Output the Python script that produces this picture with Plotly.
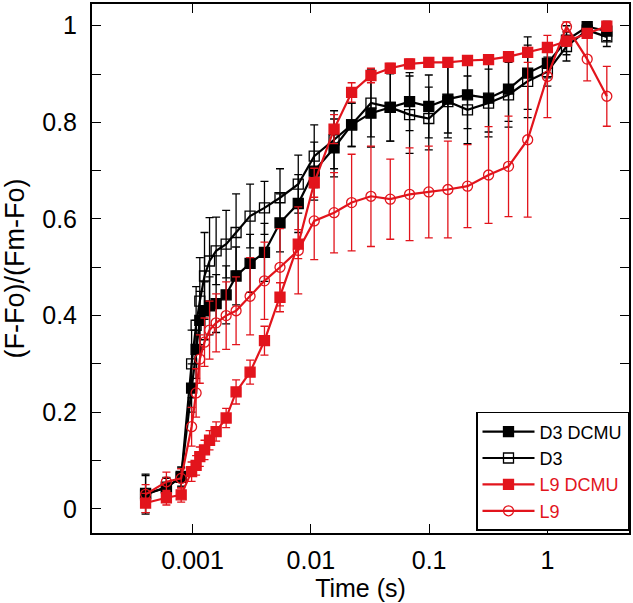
import plotly.graph_objects as go

# Time points (s)
time_s = [0.0004, 0.0006, 0.0008, 0.00098, 0.00107, 0.00115, 0.00126, 0.00139, 0.00158,
          0.00192, 0.00233, 0.00306, 0.00405, 0.00548, 0.00782, 0.01067, 0.0157, 0.0221,
          0.0322, 0.0469, 0.0683, 0.0993, 0.144, 0.211, 0.318, 0.469, 0.681, 1.0, 1.45,
          2.17, 3.18]

d3_dcmu = [0.032, 0.043, 0.067, 0.25, 0.33, 0.39, 0.41, 0.42, 0.425, 0.443, 0.482, 0.508,
           0.531, 0.592, 0.632, 0.699, 0.747, 0.795, 0.819, 0.831, 0.843, 0.833, 0.848,
           0.857, 0.850, 0.869, 0.902, 0.922, 0.970, 0.998, 0.989]
d3_dcmu_err = [0.04, 0.02, 0.02, 0.05, 0.06, 0.06, 0.06, 0.06, 0.06, 0.06, 0.06, 0.06,
               0.06, 0.06, 0.06, 0.06, 0.06, 0.045, 0.07, 0.07, 0.06, 0.065, 0.07,
               0.07, 0.07, 0.067, 0.075, 0.03, 0.03, 0.01, 0.02]

d3 = [0.029, 0.045, 0.065, 0.30, 0.38, 0.43, 0.482, 0.513, 0.534, 0.548, 0.572, 0.606,
      0.623, 0.644, 0.672, 0.730, 0.764, 0.795, 0.840, 0.831, 0.816, 0.808, 0.843,
      0.826, 0.840, 0.857, 0.885, 0.905, 0.957, 0.991, 0.977]
d3_err = [0.04, 0.02, 0.02, 0.07, 0.08, 0.09, 0.09, 0.09, 0.07, 0.07, 0.08, 0.066,
          0.055, 0.06, 0.06, 0.065, 0.06, 0.045, 0.07, 0.07, 0.08, 0.065, 0.075,
          0.07, 0.07, 0.067, 0.075, 0.03, 0.03, 0.01, 0.02]

l9_dcmu = [0.012, 0.023, 0.029, 0.077, 0.09, 0.108, 0.122, 0.142, 0.16, 0.188, 0.242,
           0.283, 0.348, 0.438, 0.548, 0.675, 0.786, 0.862, 0.897, 0.912, 0.921, 0.924,
           0.924, 0.928, 0.930, 0.936, 0.945, 0.955, 0.968, 0.984, 0.999]
l9_dcmu_err = [0.02, 0.015, 0.015, 0.02, 0.02, 0.02, 0.02, 0.02, 0.02, 0.02, 0.025,
               0.025, 0.03, 0.03, 0.03, 0.03, 0.03, 0.02, 0.015, 0.01, 0.01, 0.01,
               0.01, 0.01, 0.01, 0.01, 0.01, 0.01, 0.01, 0.01, 0.01]

l9 = [0.030, 0.056, 0.063, 0.17, 0.24, 0.31, 0.345, 0.37, 0.385, 0.40, 0.41, 0.44,
      0.472, 0.50, 0.535, 0.596, 0.613, 0.634, 0.647, 0.641, 0.651, 0.656, 0.661,
      0.668, 0.691, 0.709, 0.764, 0.895, 0.998, 0.931, 0.854]
l9_err = [0.02, 0.02, 0.02, 0.04, 0.05, 0.05, 0.05, 0.06, 0.06, 0.07, 0.07, 0.08,
          0.08, 0.08, 0.09, 0.08, 0.083, 0.10, 0.104, 0.083, 0.096, 0.095, 0.10,
          0.086, 0.10, 0.104, 0.16, 0.085, 0.01, 0.045, 0.062]

BLACK = "#000000"
RED = "#e2141c"

series = [
    ("D3 DCMU", d3_dcmu, d3_dcmu_err, BLACK, "square"),
    ("D3", d3, d3_err, BLACK, "square-open"),
    ("<span style='color:%s'>L9 DCMU</span>" % RED, l9_dcmu, l9_dcmu_err, RED, "square"),
    ("<span style='color:%s'>L9</span>" % RED, l9, l9_err, RED, "circle-open"),
]

fig = go.Figure()
for name, vals, errs, col, sym in series:
    fig.add_trace(go.Scatter(
        x=time_s, y=vals, name=name, mode="lines+markers",
        line=dict(color=col, width=2.2),
        marker=dict(symbol=sym, size=10, color=col, line=dict(color=col, width=1.3)),
        error_y=dict(type="data", array=errs, visible=True, color=col,
                     thickness=1.3, width=4),
    ))

fig.update_layout(
    width=633, height=603,
    margin=dict(l=92, r=2, t=2, b=70),
    paper_bgcolor="white", plot_bgcolor="white",
    font=dict(family="Liberation Sans, Arial, sans-serif", size=25, color="black"),
    showlegend=True,
    legend=dict(x=1, y=0.004, xanchor="right", yanchor="bottom",
                bordercolor="black", borderwidth=1.5, bgcolor="white",
                font=dict(size=18), tracegroupgap=0, itemwidth=52,
                traceorder="normal"),
    xaxis=dict(type="log", range=[-3.851, 0.69],
               tickvals=[0.001, 0.01, 0.1, 1], ticktext=["0.001", "0.01", "0.1", "1"],
               ticks="inside", ticklen=9, tickwidth=1.3, tickcolor="black",
               tickfont=dict(size=25), ticklabelstandoff=4,
               showline=True, linecolor="black", linewidth=2, mirror="ticks",
               showgrid=False, zeroline=False,
               title=dict(text="Time (s)", font=dict(size=25), standoff=6)),
    yaxis=dict(range=[-0.05, 1.045],
               tickvals=[0, 0.2, 0.4, 0.6, 0.8, 1], ticktext=["0", "0.2", "0.4", "0.6", "0.8", "1"],
               ticks="inside", ticklen=9, tickwidth=1.3, tickcolor="black",
               tickfont=dict(size=25), ticklabelstandoff=8,
               minor=dict(dtick=0.1, tick0=0, ticks="inside", ticklen=9, tickwidth=1.3, tickcolor="black"),
               showline=True, linecolor="black", linewidth=2, mirror="ticks",
               showgrid=False, zeroline=False,
               title=dict(text="(F-Fo)/(Fm-Fo)", font=dict(size=27), standoff=12)),
)

fig.write_html("out.html", config={"displayModeBar": False},
               post_script="document.body.style.margin='0';")
